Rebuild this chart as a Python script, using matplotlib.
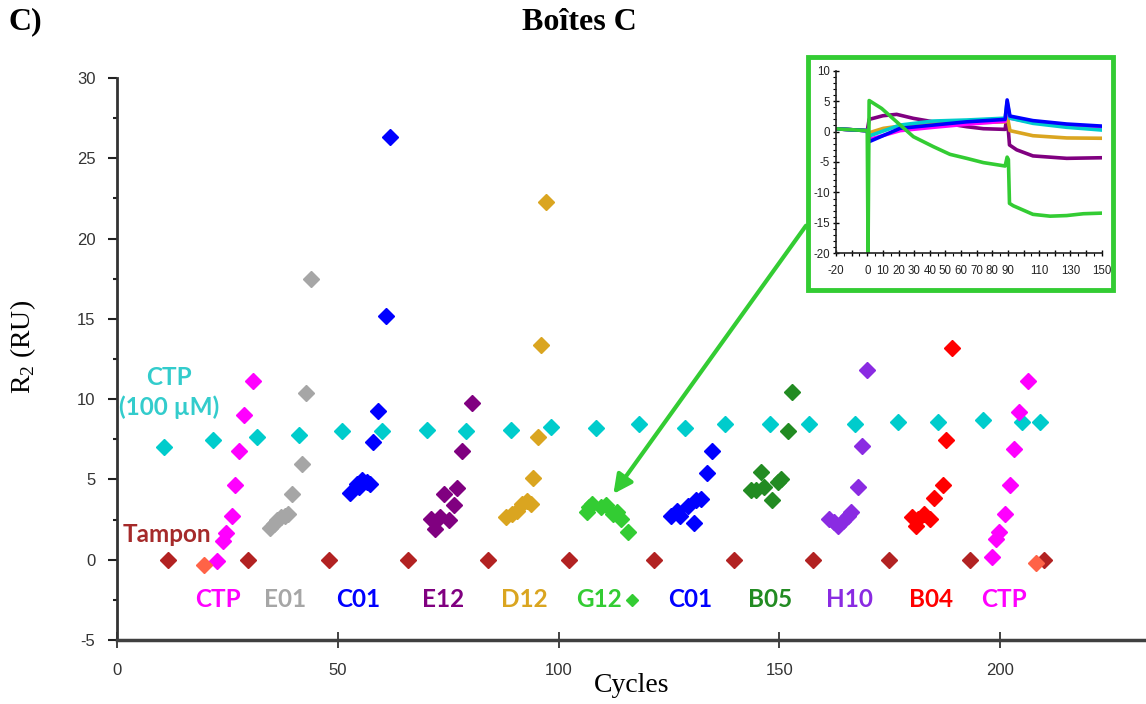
import numpy as np
import matplotlib
matplotlib.use('Agg')
import matplotlib.pyplot as plt
from matplotlib.patches import Rectangle

plt.rcParams['axes.unicode_minus'] = False

# --- donnees principales (cycles, R2) ---
tampon_x = [11.6, 29.6, 48.0, 65.9, 84.0, 102.4, 121.6, 139.6, 157.7, 174.9, 193.2, 210.0]
tampon_y = [0, 0, 0, 0, 0, 0, 0, 0, 0, 0, 0, 0]

ctp100_x = [10.7, 21.8, 31.6, 41.1, 50.9, 60.0, 70.1, 79.1, 89.3, 98.3, 108.5, 118.3,
            128.6, 137.6, 147.8, 156.8, 167.0, 176.8, 185.9, 196.1, 205.0, 209.1]
ctp100_y = [7.0, 7.45, 7.64, 7.78, 8.0, 8.0, 8.1, 8.0, 8.1, 8.24, 8.2, 8.45,
            8.2, 8.45, 8.45, 8.45, 8.45, 8.6, 8.6, 8.7, 8.55, 8.55]

ctp1_x = [22.6, 24.0, 24.7, 26.1, 26.7, 27.6, 28.7, 30.8]
ctp1_y = [-0.06, 1.18, 1.66, 2.74, 4.63, 6.77, 9.0, 11.1]

e01_x = [34.7, 35.5, 36.3, 37.2, 38.0, 38.8, 39.7, 41.8, 42.7, 43.9]
e01_y = [2.0, 2.25, 2.45, 2.65, 2.75, 2.85, 4.07, 5.96, 10.36, 17.5]

c01a_x = [52.8, 54.4, 54.7, 55.5, 56.6, 57.4, 57.9, 59.0, 61.0, 61.9]
c01a_y = [4.17, 4.71, 4.5, 4.96, 4.81, 4.71, 7.35, 9.24, 15.2, 26.3]

e12_x = [71.0, 72.1, 73.1, 74.1, 75.1, 76.3, 77.0, 78.2, 80.3]
e12_y = [2.53, 1.91, 2.68, 4.09, 2.47, 3.4, 4.44, 6.79, 9.78]

d12_x = [88.0, 89.5, 90.6, 91.8, 92.9, 93.7, 94.2, 95.4, 96.1, 97.1]
d12_y = [2.64, 2.84, 3.05, 3.47, 3.67, 3.47, 5.09, 7.66, 13.4, 22.3]

g12_x = [106.5, 106.9, 107.6, 109.5, 110.7, 112.2, 113.3, 114.1, 115.6]
g12_y = [2.95, 3.26, 3.47, 3.26, 3.42, 2.84, 2.95, 2.53, 1.7]

c01b_x = [125.4, 126.8, 127.5, 129.3, 130.7, 131.1, 132.2, 133.6, 134.7]
c01b_y = [2.74, 3.05, 2.74, 3.32, 2.26, 3.72, 3.78, 5.4, 6.79]

b05_x = [143.5, 144.7, 145.8, 146.6, 148.4, 149.6, 150.3, 151.9, 152.8]
b05_y = [4.34, 4.34, 5.44, 4.55, 3.72, 4.81, 5.02, 7.99, 10.46]

h10_x = [161.3, 162.4, 163.2, 164.3, 165.5, 166.2, 167.9, 168.6, 169.8]
h10_y = [2.53, 2.32, 2.12, 2.43, 2.74, 2.95, 4.55, 7.1, 11.8]

b04_x = [180.0, 181.0, 181.3, 182.8, 184.0, 185.1, 187.1, 187.8, 189.1]
b04_y = [2.64, 2.12, 2.53, 2.84, 2.53, 3.84, 4.63, 7.45, 13.2]

ctp2_x = [198.1, 199.1, 199.8, 201.0, 202.2, 203.0, 204.2, 206.3]
ctp2_y = [0.14, 1.29, 1.7, 2.84, 4.63, 6.89, 9.17, 11.15]

neg_x = [19.8, 208.2]
neg_y = [-0.31, -0.23]

# etiquettes des groupes
grp_labels = ['CTP', 'E01', 'C01', 'E12', 'D12', 'G12', 'C01', 'B05', 'H10', 'B04', 'CTP']
grp_x = [22.9, 38.1, 54.6, 73.9, 92.3, 109.1, 129.9, 147.8, 165.8, 184.4, 200.9]

# --- donnees de l'encart (sensorgrammes) ---
green_t = [-20, -10, 0, 0.5, 1.2, 9.2, 18.8, 29.5, 42.3, 52.9, 63.6, 74.3, 88.2, 89.5, 90.3, 91.0,
           93.5, 106, 117, 127.6, 138.3, 150]
green_y = [0.45, 0.3, 0.15, -20, 5.1, 3.8, 1.6, -0.84, -2.48, -3.74, -4.4, -5.1, -5.66, -4.2, -4.6,
           -11.8, -12.2, -13.6, -13.9, -13.8, -13.5, -13.4]
purple_t = [-20, -10, 0, 1.2, 10, 18.8, 29.5, 42.3, 52.9, 63.6, 74.3, 88.2, 89.5, 91.0, 95.6, 106, 127.6, 150]
purple_y = [0.45, 0.3, 0.15, 2.0, 2.6, 2.83, 2.17, 1.6, 1.24, 0.8, 0.47, 0.36, 2.7, -2.2, -3.0, -4.0, -4.4, -4.3]
gold_t = [-20, -10, 0, 1.2, 10.3, 21, 42.3, 63.6, 88.2, 89.5, 91.3, 106, 127.6, 150]
gold_y = [0.45, 0.3, 0.15, -0.2, 0.53, 0.9, 1.35, 1.4, 1.6, 2.7, 0.15, -0.68, -1.05, -1.1]
magenta_t = [-20, -10, 0, 1.2, 21, 42.3, 63.6, 88.2, 89.5, 91.3, 106, 127.6, 150]
magenta_y = [0.45, 0.3, 0.15, -1.3, 0.15, 0.7, 1.2, 1.7, 4.0, 2.2, 1.5, 1.0, 0.7]
cyan_t = [-20, -10, 0, 1.2, 21, 42.3, 63.6, 88.2, 89.5, 91.3, 106, 127.6, 150]
cyan_y = [0.45, 0.3, 0.15, -0.73, 1.07, 1.73, 1.9, 2.2, 4.9, 2.2, 1.35, 0.7, 0.25]
blue_t = [-20, -10, 0, 1.2, 21, 42.3, 63.6, 88.2, 89.5, 91.3, 106, 127.6, 150]
blue_y = [0.45, 0.3, 0.15, -1.66, 0.53, 1.07, 1.6, 2.0, 5.2, 2.55, 1.8, 1.24, 0.9]
inset_xlabels = ['-20', '', '0', '10', '20', '30', '40', '50', '60', '70', '80', '90', '', '110', '', '130', '', '150']

serif = 'Liberation Serif'
sans = 'Liberation Sans'
lab_font = 'Lato'

fig = plt.figure(figsize=(11.46, 7.04), dpi=100)
ax = fig.add_axes([117 / 1146, 64 / 704, 1029 / 1146, 562 / 704])

mk = dict(marker='D', linestyle='none', markersize=8)
ax.plot(tampon_x, tampon_y, color='#B22222', **mk)
ax.plot(ctp100_x, ctp100_y, color='#00CCCC', **mk)
ax.plot(ctp1_x, ctp1_y, color='#FF00FF', **mk)
ax.plot(ctp2_x, ctp2_y, color='#FF00FF', **mk)
ax.plot(e01_x, e01_y, color='#A6A6A6', **mk)
ax.plot(c01a_x, c01a_y, color='#0000FF', **mk)
ax.plot(c01b_x, c01b_y, color='#0000FF', **mk)
ax.plot(e12_x, e12_y, color='#800080', **mk)
ax.plot(d12_x, d12_y, color='#DAA520', **mk)
ax.plot(g12_x, g12_y, color='#33CC33', **mk)
ax.plot(b05_x, b05_y, color='#228B22', **mk)
ax.plot(h10_x, h10_y, color='#8A2BE2', **mk)
ax.plot(b04_x, b04_y, color='#FF0000', **mk)
ax.plot(neg_x, neg_y, color='#FF6347', **mk)

grp_colors = ['#FF00FF', '#A6A6A6', '#0000FF', '#800080', '#DAA520', '#33CC33',
              '#0000FF', '#228B22', '#8A2BE2', '#FF0000', '#FF00FF']
for lab, gx, gc in zip(grp_labels, grp_x, grp_colors):
    ax.text(gx, -2.5, lab, color=gc, fontsize=17.5, fontweight='bold', family=lab_font,
            ha='center', va='center')
ax.plot([116.6], [-2.5], marker='D', color='#33CC33', markersize=6.5, linestyle='none')

ax.text(11.8, 10.4, 'CTP\n(100 µM)', color='#33CCCC', fontsize=17.5, fontweight='bold',
        family=lab_font, ha='center', va='center', linespacing=1.35)
ax.text(11.4, 1.6, 'Tampon', color='#A52A2A', fontsize=17.5, fontweight='bold',
        family=lab_font, ha='center', va='center')

ax.set_xlim(0, 233)
ax.set_ylim(-5, 30)
ax.set_xticks([0, 50, 100, 150, 200])
ax.set_yticks(np.arange(-5, 31, 5))
ax.set_yticks(np.arange(-5, 30, 2.5), minor=True)
for s in ['top', 'right']:
    ax.spines[s].set_visible(False)
ax.spines['left'].set_linewidth(2)
ax.spines['left'].set_color('#333333')
ax.spines['bottom'].set_linewidth(2.5)
ax.spines['bottom'].set_color('#404040')
ax.tick_params(axis='x', direction='inout', length=11, width=1.2, pad=11,
               labelsize=12, labelcolor='#333333', color='#222222')
ax.tick_params(axis='y', which='major', direction='out', length=6.5, width=1.5, pad=9,
               labelsize=12, labelcolor='#333333', color='#222222')
ax.tick_params(axis='y', which='minor', direction='out', length=3, width=1.5, color='#222222')
for t in ax.get_xticklabels() + ax.get_yticklabels():
    t.set_family(sans)

ax.set_xlabel('Cycles', family=serif, fontsize=20)
ax.set_ylabel(r'R$_{\mathregular{2}}$ (RU)', family=serif, fontsize=20)
ax.xaxis.set_label_coords(0.5, -0.058)
ax.yaxis.set_label_coords(-0.0768, 0.521)

fig.text(579 / 1146, 1 - 22 / 704, 'Boîtes C', family=serif, fontsize=23, fontweight='bold',
         ha='center', va='center')
fig.text(9 / 1146, 1 - 22 / 704, 'C)', family=serif, fontsize=23, fontweight='bold',
         ha='left', va='center')

# fleche vers G12
ax.annotate('', xy=(112.4, 4.1), xytext=(156.0, 20.8),
            arrowprops=dict(arrowstyle='-|>', color='#33CC33', lw=3, mutation_scale=28,
                            shrinkA=0, shrinkB=0))

# cadre et encart
fig.patches.append(Rectangle((808 / 1146, 1 - 290 / 704), 305 / 1146, 233 / 704,
                             transform=fig.transFigure, facecolor='white',
                             edgecolor='#33CC33', linewidth=3.5, zorder=3))
ins = fig.add_axes([836 / 1146, 1 - 253.3 / 704, 265.7 / 1146, 182.6 / 704], zorder=5)
ins.patch.set_alpha(0)
ins.plot(purple_t, purple_y, color='#800080', lw=2.6)
ins.plot(gold_t, gold_y, color='#DAA520', lw=2.6)
ins.plot(magenta_t, magenta_y, color='#FF00FF', lw=2.6)
ins.plot(cyan_t, cyan_y, color='#00CCCC', lw=2.6)
ins.plot(blue_t, blue_y, color='#0000FF', lw=2.6)
ins.plot(green_t, green_y, color='#33CC33', lw=2.6)
ins.set_xlim(-20, 150)
ins.set_ylim(-20, 10)
ins.set_xticks(np.arange(-20, 151, 10))
ins.set_xticklabels(inset_xlabels)
ins.set_xticks(np.arange(-20, 151, 5), minor=True)
ins.set_yticks(np.arange(-20, 11, 5))
ins.set_yticks(np.arange(-20, 10, 1), minor=True)
for s in ['top', 'right']:
    ins.spines[s].set_visible(False)
for s in ['left', 'bottom']:
    ins.spines[s].set_linewidth(1.2)
    ins.spines[s].set_color('#222222')
ins.tick_params(which='major', direction='inout', length=5, width=1, labelsize=8.3, pad=2,
                labelcolor='#222222')
ins.tick_params(axis='x', which='major', pad=6)
ins.tick_params(which='minor', direction='out', length=2, width=0.8)
for t in ins.get_xticklabels() + ins.get_yticklabels():
    t.set_family(sans)

fig.savefig('out.png', dpi=100)
